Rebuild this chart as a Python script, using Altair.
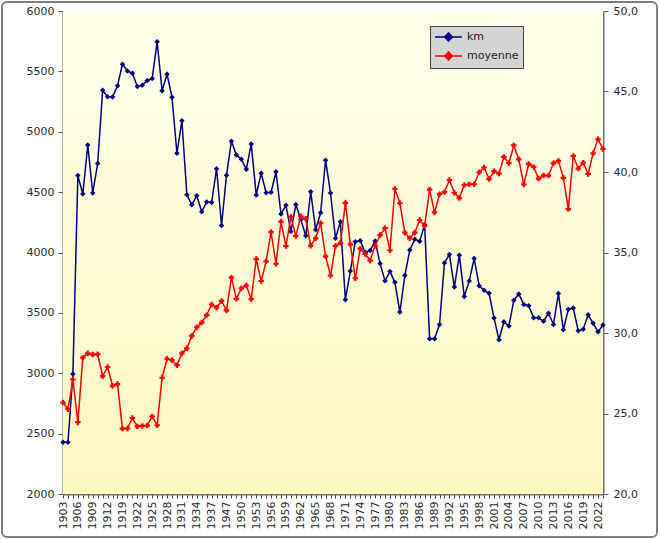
import altair as alt
import pandas as pd

years = (list(range(1903, 1915)) + list(range(1919, 1940)) + list(range(1947, 2024)))

km = [2428, 2428, 2994, 4637, 4484, 4890, 4493, 4737, 5343, 5289, 5287, 5380,
      5560, 5503, 5484, 5375, 5386, 5425, 5440, 5745, 5340, 5476, 5286, 4822,
      5091, 4479, 4395, 4470, 4338, 4418, 4415, 4694, 4224,
      4640, 4922, 4808, 4773, 4690, 4898, 4476, 4656, 4495, 4498, 4669, 4319,
      4391, 4173, 4397, 4274, 4138, 4504, 4188, 4329, 4765, 4492, 4117, 4254,
      3608, 3846, 4090, 4098, 4000, 4017, 4096, 3908, 3765, 3842, 3753, 3507,
      3809, 4021, 4109, 4094, 4231, 3286, 3285, 3404, 3914, 3983, 3714, 3978,
      3635, 3765, 3950, 3725, 3687, 3662, 3458, 3277, 3427, 3391, 3604, 3657,
      3570, 3559, 3460, 3460, 3430, 3497, 3404, 3660, 3360, 3529, 3540, 3351,
      3365, 3484, 3414, 3343, 3400]

moyenne = [25.68, 25.27, 27.11, 24.46, 28.47, 28.74, 28.66, 28.68, 27.32, 27.89, 26.72, 26.83,
           24.06, 24.07, 24.72, 24.20, 24.23, 24.25, 24.82, 24.27, 27.22, 28.40, 28.32, 28.00,
           28.73, 29.05, 29.82, 30.36, 30.65, 31.11, 31.77, 31.57, 31.99,
           31.41, 33.44, 32.12, 32.78, 32.95, 32.10, 34.59, 33.23, 34.45, 36.27, 34.30, 36.92,
           35.40, 37.21, 36.03, 37.25, 37.09, 35.42, 35.88, 36.82, 34.76, 33.57, 35.41, 35.59,
           38.08, 35.51, 33.40, 35.24, 34.91, 34.50, 35.42, 36.08, 36.51, 35.14, 38.96, 38.06,
           36.23, 35.88, 36.23, 37.02, 36.65, 38.91, 37.49, 38.62, 38.75, 39.50, 38.71, 38.38,
           39.19, 39.24, 39.24, 39.98, 40.28, 39.56, 40.05, 39.90, 40.94, 40.55, 41.65, 40.78,
           39.23, 40.50, 40.31, 39.59, 39.79, 39.78, 40.54, 40.69, 39.64, 37.70, 41.00, 40.21,
           40.58, 39.88, 41.16, 42.03, 41.43]

series_names = ["km", "moyenne"]
series_colors = ["#000080", "#ff0000"]
km_ticks = [2000, 2500, 3000, 3500, 4000, 4500, 5000, 5500, 6000]
moy_ticks = [20, 25, 30, 35, 40, 45, 50]

years_str = [str(y) for y in years]
labelled = years_str[::3]

df_km = pd.DataFrame({"year": years_str, "value": km, "series": "km"})
df_moy = pd.DataFrame({"year": years_str, "value": moyenne, "series": "moyenne"})

FONT = "DejaVu Sans"
TXT = "#2a2a2a"
label_expr = "indexof([" + ",".join("'%s'" % y for y in labelled) + "], datum.label) >= 0 ? datum.label : ''"

x_axis = alt.Axis(title=None, labelAngle=270, labelExpr=label_expr, labelOverlap=False,
                  labelFontSize=11, labelFont=FONT, labelColor=TXT, labelPadding=3,
                  tickSize=4, tickColor="#444444", domainColor="#707070", domainWidth=2,
                  grid=False, labelFlush=False)
x_enc = alt.X("year:O", sort=years_str, scale=alt.Scale(type="point", padding=0), axis=x_axis)

color_scale = alt.Scale(domain=series_names, range=series_colors)
legend_path = ("M-1,0L3.5,0 M1.25,-0.65L1.9,0L1.25,0.65L0.6,0Z "
               "M0.9,0L1.6,0 M1.25,-0.35L1.25,0.35")
legend = alt.Legend(title=None, orient="none", legendX=367, legendY=15,
                    fillColor="#d4d4d4", strokeColor="#404040", padding=4,
                    symbolType=legend_path, symbolSize=144, symbolStrokeWidth=1.6,
                    labelOffset=19, labelFontSize=11, labelFont=FONT, labelColor="#222222",
                    rowPadding=3)

km_layer = alt.Chart(df_km).mark_line(
    strokeWidth=1.5,
    point=alt.OverlayMarkDef(shape="diamond", filled=True, size=30)
).encode(
    x=x_enc,
    y=alt.Y("value:Q", scale=alt.Scale(domain=[2000, 6000], nice=False, zero=False),
            axis=alt.Axis(title=None, values=km_ticks, format="d", grid=True,
                          gridColor="#a3a3a3", gridWidth=1, labelFontSize=11,
                          labelFont=FONT, labelColor=TXT, tickSize=5,
                          tickColor="#555555", domainColor="#707070", domainWidth=2,
                          labelPadding=4)),
    color=alt.Color("series:N", scale=color_scale, legend=legend),
)

moy_layer = alt.Chart(df_moy).mark_line(
    strokeWidth=1.5,
    point=alt.OverlayMarkDef(shape="cross", filled=True, size=30)
).encode(
    x=x_enc,
    y=alt.Y("value:Q", scale=alt.Scale(domain=[20, 50], nice=False, zero=False),
            axis=alt.Axis(title=None, orient="right", values=moy_ticks, grid=False,
                          labelExpr="replace(format(datum.value, '.1f'), '.', ',')",
                          labelFontSize=11, labelFont=FONT, labelColor=TXT,
                          tickSize=5, tickColor="#555555", domainColor="#707070",
                          domainWidth=2, labelPadding=5)),
    color=alt.Color("series:N", scale=color_scale, legend=legend),
)

one = pd.DataFrame({"a": [0]})
bg = alt.Chart(one).mark_rect(
    color=alt.LinearGradient(gradient="linear",
                             stops=[alt.GradientStop(color="#fffeea", offset=0),
                                    alt.GradientStop(color="#fdf8c2", offset=1)],
                             x1=0, x2=0, y1=0, y2=1)
).encode(x=alt.value(0), x2=alt.value(540), y=alt.value(0), y2=alt.value(483))

border = alt.Chart(one).mark_rect(
    fill=None, stroke="#7f7f7f", strokeWidth=2, cornerRadius=5
).encode(x=alt.value(-61), x2=alt.value(594), y=alt.value(-9), y2=alt.value(526))

chart = alt.layer(bg, border, km_layer, moy_layer).resolve_scale(
    y="independent"
).properties(
    width=540, height=483,
    autosize=alt.AutoSizeParams(type="none"),
    padding={"left": 63, "top": 11, "right": 57, "bottom": 45},
    background="white",
).configure_view(stroke=None)

chart.save("out.html", embed_options={"renderer": "svg", "actions": False})
